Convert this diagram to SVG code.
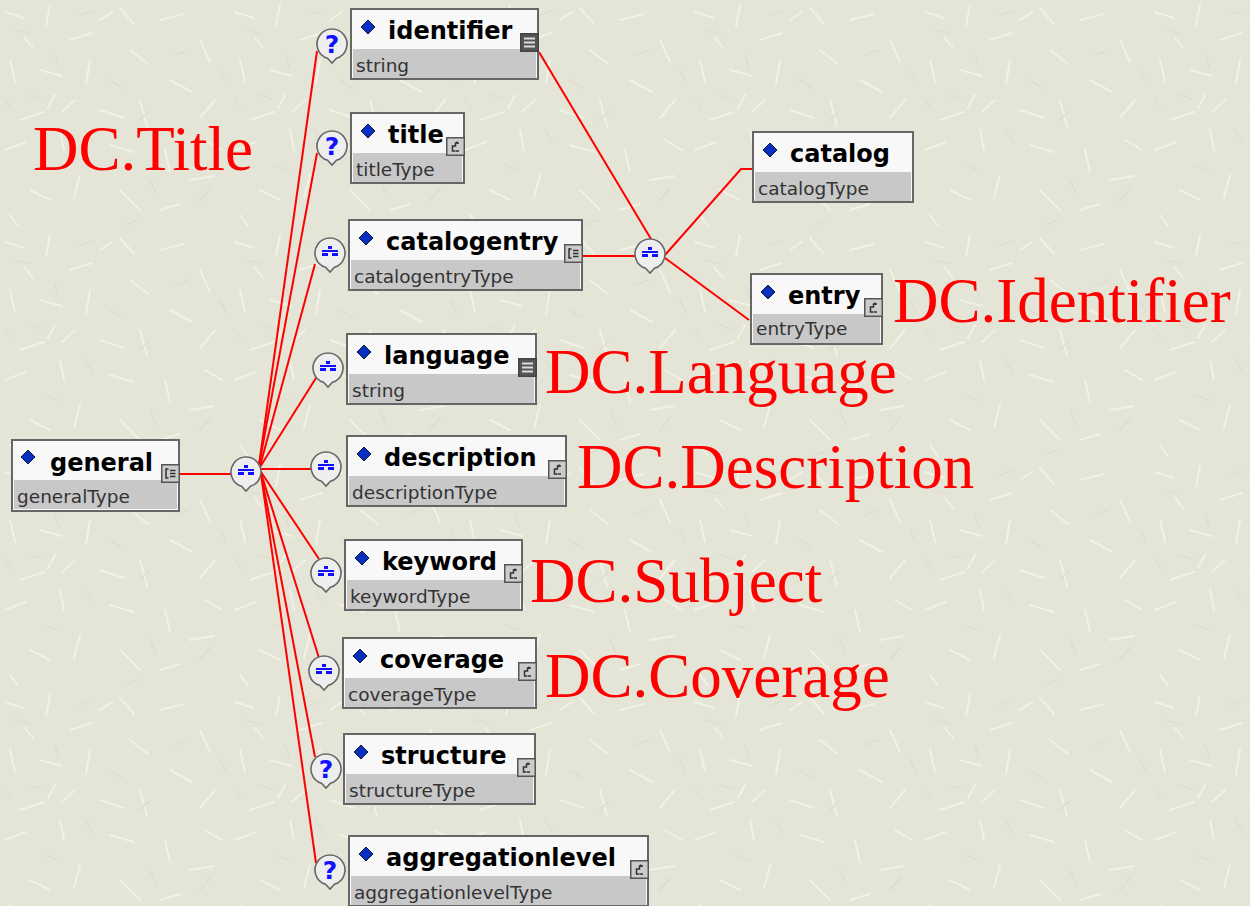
<svg xmlns="http://www.w3.org/2000/svg" xmlns:xlink="http://www.w3.org/1999/xlink" width="1250" height="906" viewBox="0 0 1250 906">
<defs>
<style>
.box{fill:#f8f8f8;stroke:#666;stroke-width:2}
.band{fill:#c8c8c8}
.nm{font-family:"DejaVu Sans",Verdana,sans-serif;font-weight:bold;font-size:24px;fill:#000}
.ty{font-family:"DejaVu Sans",Verdana,sans-serif;font-size:18.5px;fill:#333}
.dc{font-family:"Liberation Serif","Times New Roman",serif;font-size:63px;fill:#ff0000}
.con{fill:none;stroke:#ff0000;stroke-width:2}
.bal{fill:#eeeeee;stroke:#666;stroke-width:1.6}
.q{font-family:"DejaVu Sans",Verdana,sans-serif;font-weight:bold;font-size:25px;fill:#1010ff;text-anchor:middle}
.streak{stroke:#f1f1e6;stroke-width:2;stroke-linecap:round;fill:none}
.streak2{stroke:#dcdccd;stroke-width:1.2;stroke-linecap:round;fill:none}
</style>
<pattern id="bg" width="230" height="230" patternUnits="userSpaceOnUse">
<rect width="230" height="230" fill="#e5e5d7"/>
<path class="streak" d="M5 12 L24 18 M50 5 L46 26 M70 40 L92 33 M120 8 L134 24 M10 60 L15 82 M40 70 L62 76 M90 60 L86 84 M130 50 L148 64 M20 120 L44 112 M60 130 L64 150 M100 110 L124 118 M140 100 L147 126 M5 150 L26 142 M110 145 L134 152 M75 100 L62 112 M25 38 L33 48 M160 20 L184 14 M200 40 L210 62 M170 80 L192 92 M215 100 L200 118 M165 150 L170 172 M190 180 L214 176 M30 190 L50 200 M80 175 L74 198 M120 190 L140 210 M160 210 L180 204 M10 215 L18 226 M205 140 L222 150 M100 20 L112 12 M55 95 L48 108"/>
<path class="streak2" d="M15 30 L30 34 M80 15 L92 11 M55 55 L59 67 M110 80 L122 88 M30 95 L42 99 M85 130 L93 142 M140 120 L148 112 M5 100 L11 108 M175 55 L188 50 M200 200 L210 188 M45 165 L58 170 M150 180 L156 194 M220 70 L226 82 M125 225 L138 220"/>
</pattern>
<path id="balloon" class="bal" d="M-4.5,14.3 A15 15 0 1 1 4.5,14.3 L0,19 Z"/>
<g id="c-seq"><use xlink:href="#balloon"/><g fill="#1010ff"><rect x="-2" y="-7" width="4" height="3"/><rect x="-8" y="-3" width="16" height="2"/><rect x="-8" y="0" width="6" height="3"/><rect x="2" y="0" width="6" height="3"/></g></g>
<g id="c-opt"><use xlink:href="#balloon"/><text class="q" x="0" y="9">?</text></g>
<path id="dia" d="M0,-7 L7,0 L0,7 L-7,0 Z" fill="#0a2fbf" stroke="#0a1a40" stroke-width="1"/>
<g id="ic-str"><rect x="0.75" y="0.75" width="17.5" height="17.5" fill="#555" stroke="#444" stroke-width="1.5"/><path d="M4 5.5 H15 M4 9.5 H15 M4 13.5 H15" stroke="#ddd" stroke-width="2"/></g>
<g id="ic-cplx"><rect x="0.75" y="0.75" width="17.5" height="17.5" fill="#cccccc" stroke="#555" stroke-width="1.5"/><path d="M13 6 H9.5 V9 H6.5 V14 H9 M9.5 14 H13 M11 4.5 V7" fill="none" stroke="#333" stroke-width="1.5"/></g>
<g id="ic-seqt"><rect x="0.75" y="0.75" width="17.5" height="17.5" fill="#cccccc" stroke="#555" stroke-width="1.5"/><path d="M7.5 5 H5 V14 H7.5 M9 6.5 H14.5 M9 9.5 H14.5 M9 12.5 H14.5" fill="none" stroke="#333" stroke-width="1.5"/></g>
</defs>
<rect width="1250" height="906" fill="url(#bg)"/>

<g id="connectors">
<path class="con" d="M180 474 H231"/>
<path class="con" d="M259 465 L317 51"/>
<path class="con" d="M259 465 L317 153"/>
<path class="con" d="M260 466 L315 264"/>
<path class="con" d="M260 467 L316 378"/>
<path class="con" d="M260 469 H312"/>
<path class="con" d="M261 472 L319 559"/>
<path class="con" d="M261 473 L319 658"/>
<path class="con" d="M261 473 L315 757"/>
<path class="con" d="M261 474 L316 863"/>
<path class="con" d="M583 256 H635"/>
<path class="con" d="M539 52 L651 239"/>
<path class="con" d="M665 255 L741 169 H752"/>
<path class="con" d="M665 258 L749 320"/>
</g>

<g id="compositors">
<use xlink:href="#c-seq" x="246" y="472"/>
<use xlink:href="#c-seq" x="650" y="254"/>
<use xlink:href="#c-opt" x="332" y="44"/>
<use xlink:href="#c-opt" x="332" y="146"/>
<use xlink:href="#c-seq" x="330" y="253"/>
<use xlink:href="#c-seq" x="328" y="368"/>
<use xlink:href="#c-seq" x="326" y="467"/>
<use xlink:href="#c-seq" x="326" y="573"/>
<use xlink:href="#c-seq" x="324" y="671"/>
<use xlink:href="#c-opt" x="326" y="769"/>
<use xlink:href="#c-opt" x="330" y="870"/>
</g>

<g id="n-general" transform="translate(11,439)">
<rect class="box" x="1" y="1" width="167" height="71"/>
<rect class="band" x="3" y="41" width="163" height="29"/>
<use xlink:href="#dia" x="17" y="18"/>
<text class="nm" x="39" y="32">general</text>
<text class="ty" x="6" y="64">generalType</text>
<use xlink:href="#ic-seqt" x="150" y="25"/>
</g>

<g id="n-identifier" transform="translate(350,8)">
<rect class="box" x="1" y="1" width="187" height="70"/>
<rect class="band" x="3" y="41" width="183" height="29"/>
<use xlink:href="#dia" x="18" y="19"/>
<text class="nm" x="38" y="31">identifier</text>
<text class="ty" x="6" y="64">string</text>
<use xlink:href="#ic-str" x="170" y="25"/>
</g>

<g id="n-title" transform="translate(350,112)">
<rect class="box" x="1" y="1" width="113" height="70"/>
<rect class="band" x="3" y="41" width="109" height="29"/>
<use xlink:href="#dia" x="18" y="19"/>
<text class="nm" x="38" y="31">title</text>
<text class="ty" x="6" y="64">titleType</text>
<use xlink:href="#ic-cplx" x="96" y="25"/>
</g>

<g id="n-catalogentry" transform="translate(348,219)">
<rect class="box" x="1" y="1" width="233" height="70"/>
<rect class="band" x="3" y="41" width="229" height="29"/>
<use xlink:href="#dia" x="18" y="19"/>
<text class="nm" x="38" y="31">catalogentry</text>
<text class="ty" x="6" y="64">catalogentryType</text>
<use xlink:href="#ic-seqt" x="216" y="25"/>
</g>

<g id="n-language" transform="translate(346,333)">
<rect class="box" x="1" y="1" width="189" height="70"/>
<rect class="band" x="3" y="41" width="185" height="29"/>
<use xlink:href="#dia" x="18" y="19"/>
<text class="nm" x="38" y="31">language</text>
<text class="ty" x="6" y="64">string</text>
<use xlink:href="#ic-str" x="172" y="25"/>
</g>

<g id="n-description" transform="translate(346,435)">
<rect class="box" x="1" y="1" width="219" height="70"/>
<rect class="band" x="3" y="41" width="215" height="29"/>
<use xlink:href="#dia" x="18" y="19"/>
<text class="nm" x="38" y="31">description</text>
<text class="ty" x="6" y="64">descriptionType</text>
<use xlink:href="#ic-cplx" x="202" y="25"/>
</g>

<g id="n-keyword" transform="translate(344,539)">
<rect class="box" x="1" y="1" width="177" height="70"/>
<rect class="band" x="3" y="41" width="173" height="29"/>
<use xlink:href="#dia" x="18" y="19"/>
<text class="nm" x="38" y="31">keyword</text>
<text class="ty" x="6" y="64">keywordType</text>
<use xlink:href="#ic-cplx" x="160" y="25"/>
</g>

<g id="n-coverage" transform="translate(342,637)">
<rect class="box" x="1" y="1" width="193" height="70"/>
<rect class="band" x="3" y="41" width="189" height="29"/>
<use xlink:href="#dia" x="18" y="19"/>
<text class="nm" x="38" y="31">coverage</text>
<text class="ty" x="6" y="64">coverageType</text>
<use xlink:href="#ic-cplx" x="176" y="25"/>
</g>

<g id="n-structure" transform="translate(343,733)">
<rect class="box" x="1" y="1" width="191" height="70"/>
<rect class="band" x="3" y="41" width="187" height="29"/>
<use xlink:href="#dia" x="18" y="19"/>
<text class="nm" x="38" y="31">structure</text>
<text class="ty" x="6" y="64">structureType</text>
<use xlink:href="#ic-cplx" x="174" y="25"/>
</g>

<g id="n-aggregationlevel" transform="translate(348,835)">
<rect class="box" x="1" y="1" width="299" height="70"/>
<rect class="band" x="3" y="41" width="295" height="29"/>
<use xlink:href="#dia" x="18" y="19"/>
<text class="nm" x="38" y="31">aggregationlevel</text>
<text class="ty" x="6" y="64">aggregationlevelType</text>
<use xlink:href="#ic-cplx" x="282" y="25"/>
</g>

<g id="n-catalog" transform="translate(752,131)">
<rect class="box" x="1" y="1" width="160" height="70"/>
<rect class="band" x="3" y="41" width="156" height="29"/>
<use xlink:href="#dia" x="18" y="19"/>
<text class="nm" x="38" y="31">catalog</text>
<text class="ty" x="6" y="64">catalogType</text>
</g>

<g id="n-entry" transform="translate(750,273)">
<rect class="box" x="1" y="1" width="131" height="70"/>
<rect class="band" x="3" y="41" width="127" height="29"/>
<use xlink:href="#dia" x="18" y="19"/>
<text class="nm" x="38" y="31">entry</text>
<text class="ty" x="6" y="62">entryType</text>
<use xlink:href="#ic-cplx" x="114" y="25"/>
</g>

<g id="labels">
<text class="dc" x="33" y="170">DC.Title</text>
<text class="dc" x="893" y="322">DC.Identifier</text>
<text class="dc" x="545" y="393">DC.Language</text>
<text class="dc" x="577" y="488">DC.Description</text>
<text class="dc" x="530" y="602">DC.Subject</text>
<text class="dc" x="545" y="697">DC.Coverage</text>
</g>
</svg>
